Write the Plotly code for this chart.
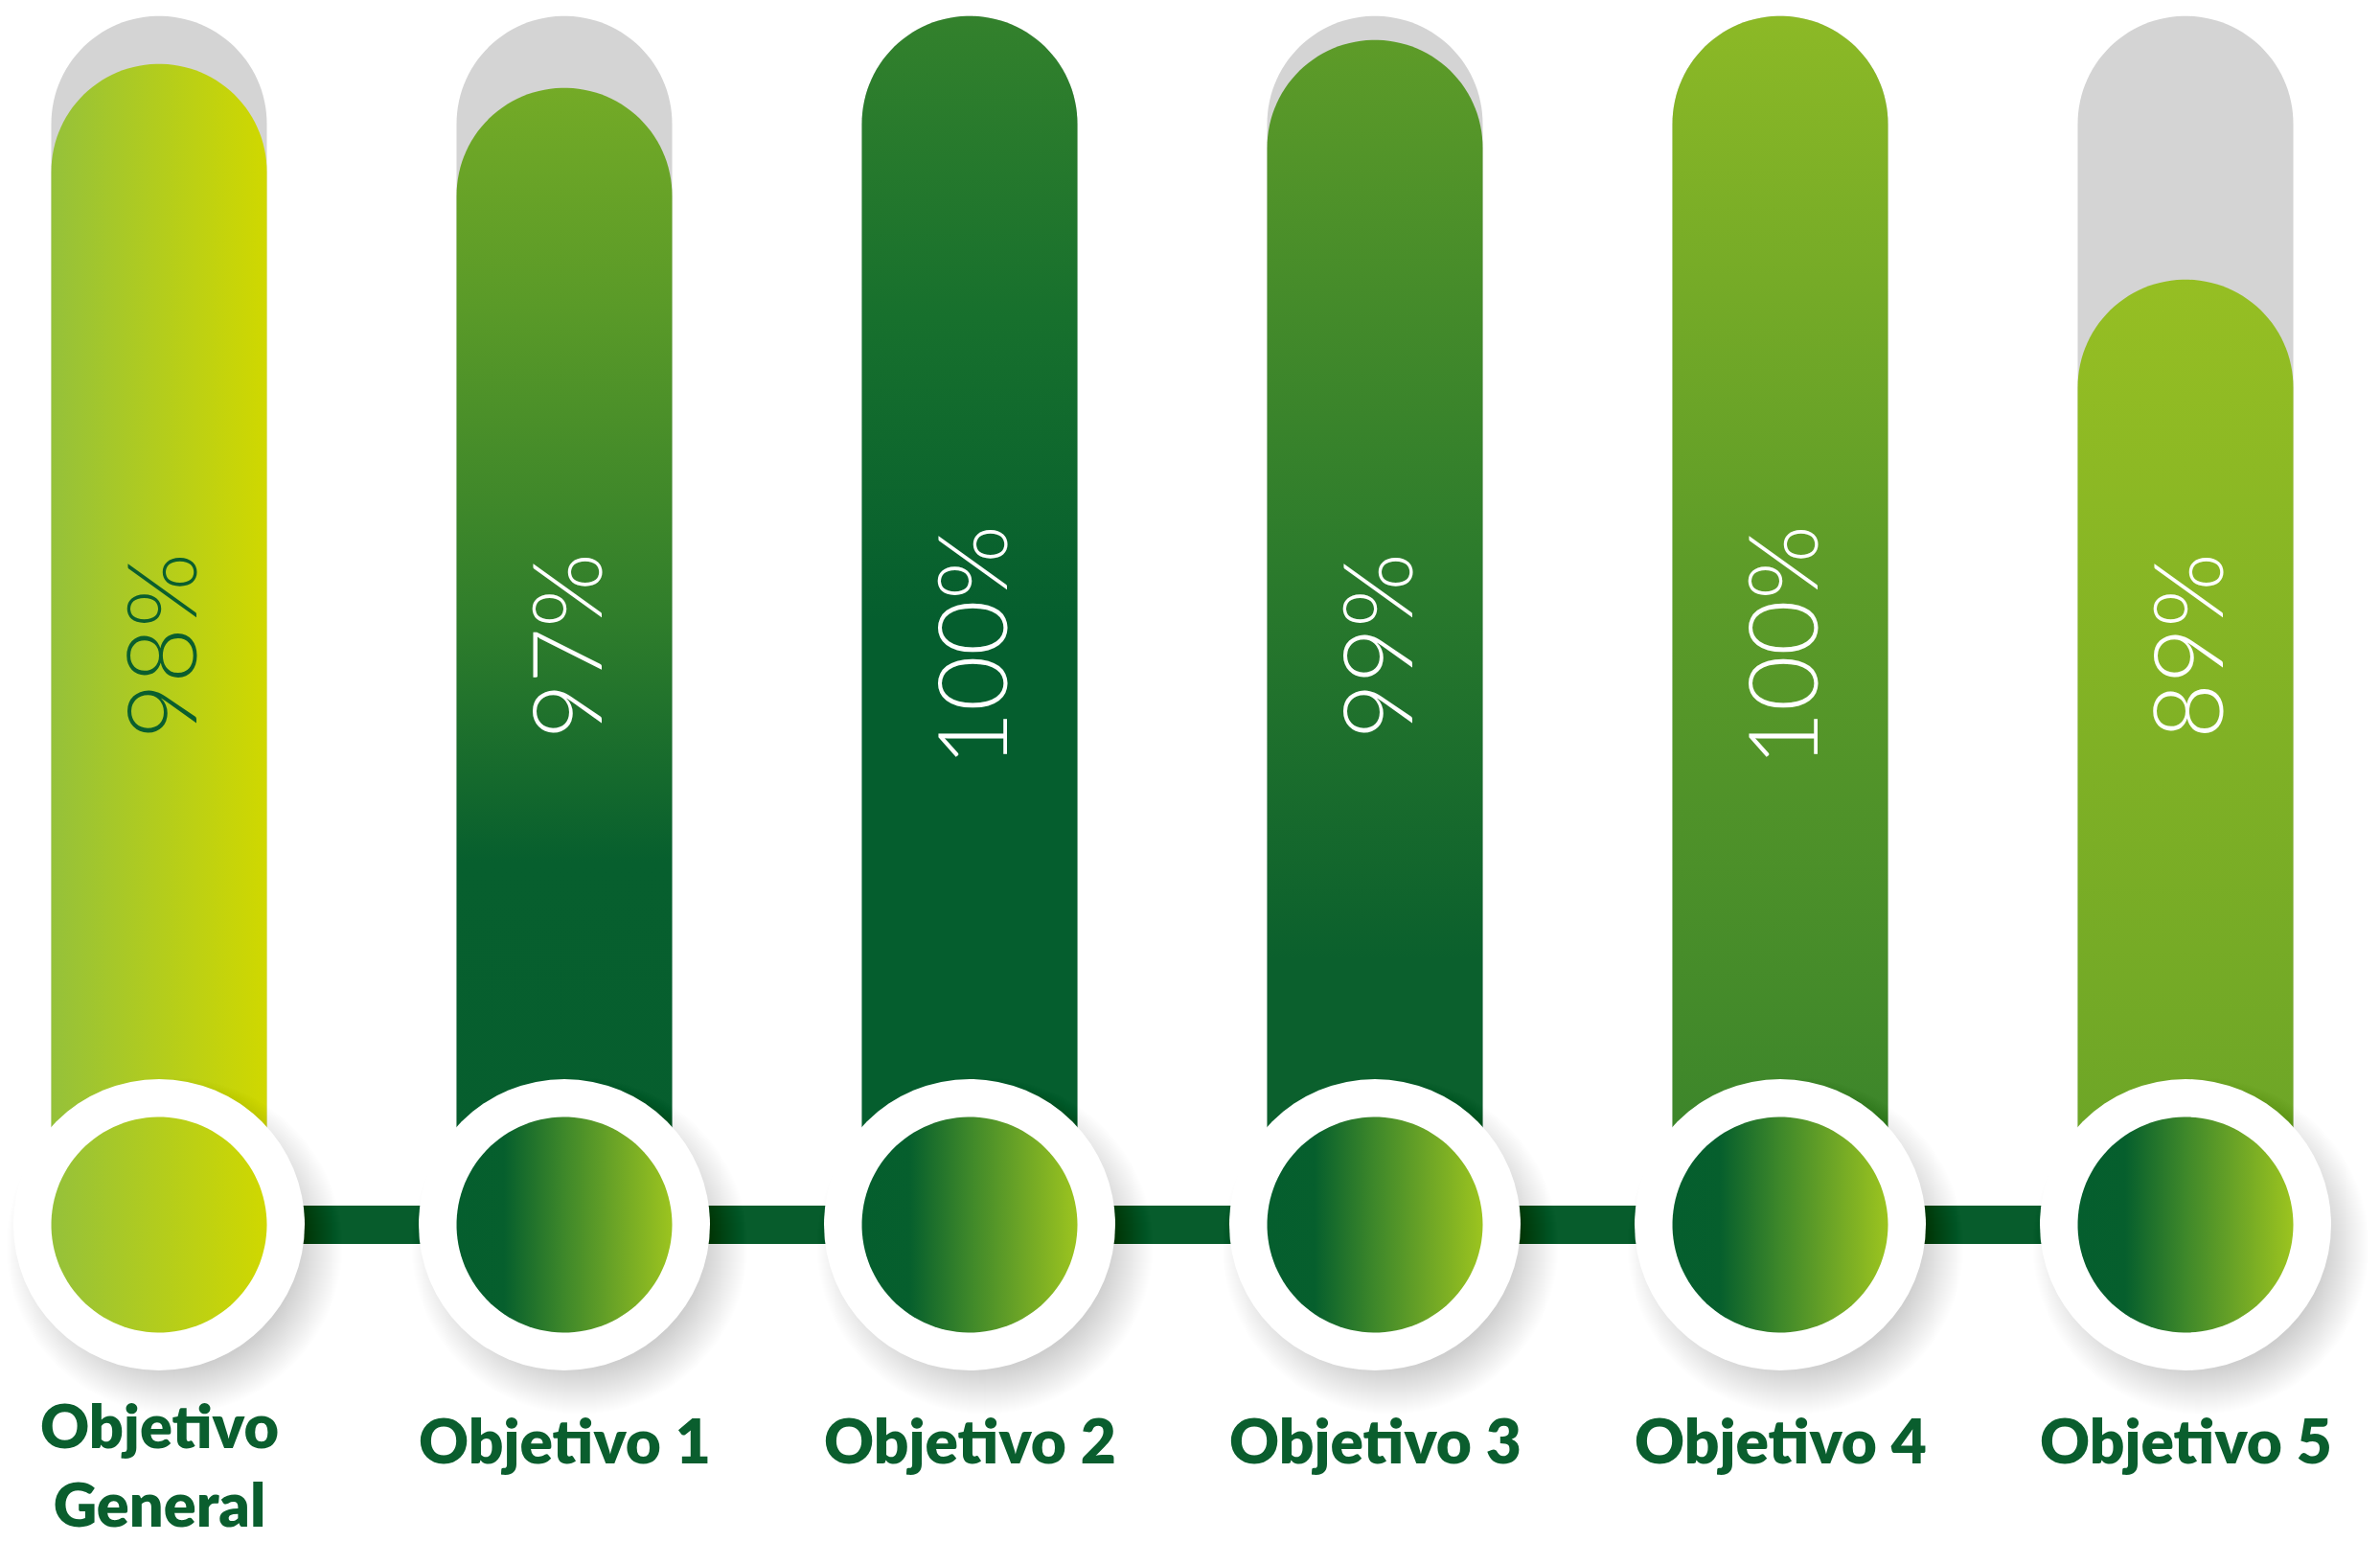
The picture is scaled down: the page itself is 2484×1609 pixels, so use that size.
from plotly import graph_objects as go
import numpy as np

# datos del gráfico
categorias = ["Objetivo<br>General", "Objetivo 1", "Objetivo 2", "Objetivo 3", "Objetivo 4", "Objetivo 5"]
cumplimiento = [98, 97, 100, 99, 100, 89]
etiquetas = ["98%", "97%", "100%", "99%", "100%", "89%"]

# geometría en pixeles (la página deja 8 px de margen al cuerpo)
OFF = 8
W, H = 2484 - OFF, 1609 - OFF
PX_X = 423          # pixeles por categoría
PX_Y = 25           # pixeles por punto porcentual
X0 = 166 - OFF      # centro de la primera columna
TOP = 16.7 - OFF    # pixel donde cae el 100%
R_BAR = 112.5       # medio ancho de barra / radio del círculo interior
R_RING = 152        # radio del anillo blanco
Y_CIRC = 1278 - OFF # pixel del centro de los círculos

y_top = 100 + TOP / PX_Y
y_bot = y_top - H / PX_Y
y_c = y_top - Y_CIRC / PX_Y
to_y = lambda px: y_top - (px - OFF) / PX_Y

DARK = "#0a5e2e"

bar_scales = [
    None,
    [[0, "#065e2e"], [0.3, "#075f2e"], [0.5, "#2f7d2b"], [0.76, "#5a9a28"], [1, "#7cb026"]],
    [[0, "#055e2e"], [0.5, "#055e2e"], [0.75, "#17702d"], [1, "#33812c"]],
    [[0, "#0b602d"], [0.22, "#0b602d"], [0.55, "#2c7b2c"], [1, "#609d28"]],
    [[0, "#37822b"], [0.55, "#5e9c28"], [1, "#8cb926"]],
    [[0, "#69a327"], [1, "#a2c622"]],
]
general_scale = [[0, "#95c13a"], [1, "#d0d800"]]
circle_scale = [[0, "#055e2e"], [0.22, "#065f2d"], [0.5, "#3e882a"], [0.75, "#6ea626"], [1, "#9cc41f"]]
text_colors = [DARK, "white", "white", "white", "white", "white"]


def capsule(i, top):
    hw = R_BAR / PX_X
    ry = R_BAR / PX_Y
    t = np.linspace(0, np.pi, 60)
    xs = [i - hw] + list(i + hw * np.cos(np.pi - t)) + [i + hw, i - hw]
    ys = [y_c] + list(top - ry + ry * np.sin(np.pi - t)) + [y_c, y_c]
    return xs, ys


def circle(i, r):
    t = np.linspace(0, 2 * np.pi, 120)
    return list(i + r / PX_X * np.cos(t)), list(y_c + r / PX_Y * np.sin(t))


fig = go.Figure()

# fondo gris (100%)
for i in range(len(categorias)):
    xs, ys = capsule(i, 100)
    fig.add_trace(go.Scatter(x=xs, y=ys, fill="toself", fillcolor="#d4d4d4",
                             mode="none", hoverinfo="skip"))

# barras de cumplimiento
for i, v in enumerate(cumplimiento):
    xs, ys = capsule(i, v)
    if i == 0:
        grad = dict(type="horizontal", colorscale=general_scale,
                    start=i - R_BAR / PX_X, stop=i + R_BAR / PX_X)
    else:
        grad = dict(type="vertical", colorscale=bar_scales[i], start=y_c, stop=100)
    fig.add_trace(go.Scatter(x=xs, y=ys, fill="toself", fillgradient=grad,
                             mode="none", hoverinfo="skip"))

# conector
xs_idx = list(range(len(categorias)))
fig.add_trace(go.Scatter(x=xs_idx, y=[y_c] * len(xs_idx), mode="lines",
                         line=dict(color="#075c2c", width=40), hoverinfo="skip"))

# sombras de los anillos: capas apiladas, de la mayor a la menor
dx, dy = 16 / PX_X, 22 / PX_Y
sizes = list(range(352, 254, -2))
sx = [i + dx for s in sizes for i in xs_idx]
ss = [s for s in sizes for i in xs_idx]
fig.add_trace(go.Scatter(x=sx, y=[y_c - dy] * len(sx), mode="markers", hoverinfo="skip",
                         marker=dict(size=ss, color="rgba(0,0,0,0.006)", line_width=0)))

# anillos blancos
fig.add_trace(go.Scatter(x=xs_idx, y=[y_c] * len(xs_idx), mode="markers", hoverinfo="skip",
                         marker=dict(size=2 * R_RING, color="white", line_width=0)))

# círculos interiores
for i in xs_idx:
    xs, ys = circle(i, R_BAR)
    sc = general_scale if i == 0 else circle_scale
    fig.add_trace(go.Scatter(x=xs, y=ys, fill="toself", mode="none", hoverinfo="skip",
                             fillgradient=dict(type="horizontal", colorscale=sc,
                                               start=i - R_BAR / PX_X, stop=i + R_BAR / PX_X)))

# porcentajes
for i, t in enumerate(etiquetas):
    fig.add_annotation(x=i, y=to_y(674), text=t, showarrow=False, textangle=-90,
                       xanchor="center", yanchor="middle",
                       font=dict(family="Lato", weight=300, size=100, color=text_colors[i]))

# nombres de objetivos
for i, c in enumerate(categorias):
    two = "<br>" in c
    fig.add_annotation(x=i, y=to_y(1527 if two else 1502), text=c, showarrow=False,
                       xanchor="center", yanchor="middle",
                       font=dict(family="Lato", weight=800, size=63 if two else 64, color=DARK))

fig.update_xaxes(range=[-X0 / PX_X, (W - X0) / PX_X], visible=False)
fig.update_yaxes(range=[y_bot, y_top], visible=False)
fig.update_layout(width=W, height=H, margin=dict(l=0, r=0, t=0, b=0),
                  paper_bgcolor="white", plot_bgcolor="white", showlegend=False)

fig.write_html("out.html")
